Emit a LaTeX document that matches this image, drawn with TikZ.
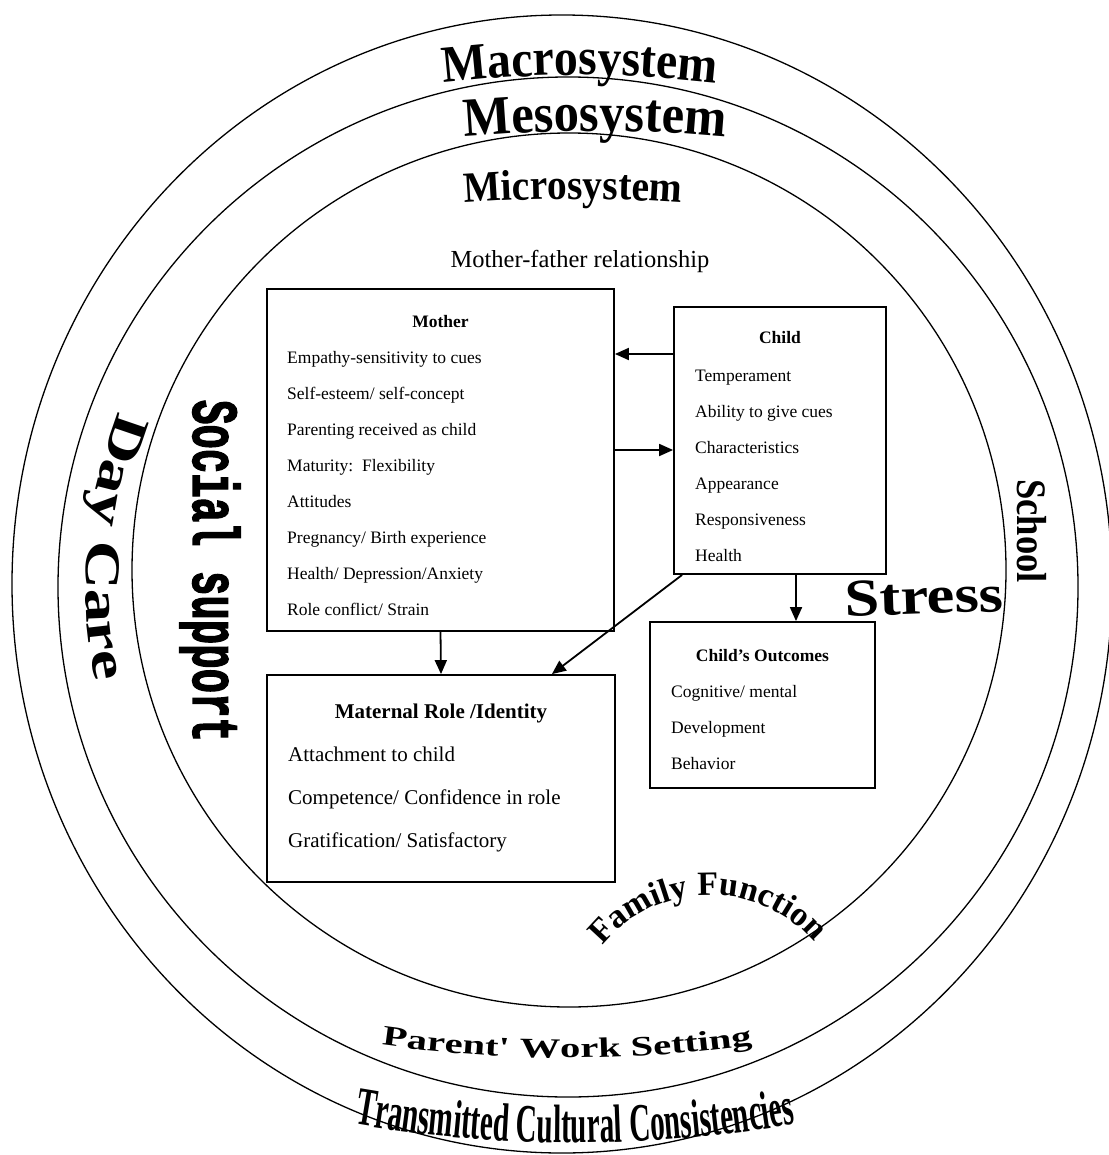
\documentclass[tikz,border=0pt]{standalone}
\usepackage{fontspec}
\setmainfont{Liberation Serif}
\newfontfamily\sysfont[FakeStretch=0.92]{Liberation Serif}
\newfontfamily\transfont[FakeStretch=0.54]{Liberation Serif}
\newfontfamily\workfont[FakeStretch=1.45]{Liberation Serif}
\newfontfamily\dayfont[FakeStretch=1.35]{Liberation Serif}
\newfontfamily\schoolfont[FakeStretch=0.87]{Liberation Serif}
\newfontfamily\stressfont[FakeStretch=1.18]{Liberation Serif}
\newfontfamily\socialfont[FakeBold=2.5]{Liberation Mono}
\usetikzlibrary{arrows.meta,decorations.text,shapes.geometric}
\tikzset{
  ring/.style={draw, line width=1.3pt, inner sep=0pt},
  box/.style={draw, line width=1.8pt, inner sep=0pt, rectangle},
  item/.style={anchor=base west, inner sep=0pt, font=\fontsize{17.5}{20}\selectfont},
  bigitem/.style={anchor=base west, inner sep=0pt, font=\fontsize{21}{24}\selectfont},
  ttl/.style={anchor=base, inner sep=0pt, font=\bfseries\fontsize{17.5}{20}\selectfont},
  bigttl/.style={anchor=base, inner sep=0pt, font=\bfseries\fontsize{21}{24}\selectfont},
  arr/.style={-{Triangle[length=14pt,width=12pt]}, line width=1.8pt},
  curved/.style={decorate, decoration={text along path, text align=center, text={#1}}}
}
\begin{document}
\begin{tikzpicture}[x=1pt,y=-1pt]
\fill[white] (0,0) rectangle (1108,1155);
\useasboundingbox (0,0) rectangle (1108,1155);

% rings
\node[ring, ellipse, minimum width=1100pt, minimum height=1138pt] (macro) at (562,584) {};
\node[ring, circle, minimum size=1020pt] (meso) at (568,587) {};
\node[ring, circle, minimum size=874pt] (micro) at (569,570) {};

% system titles
\path[curved={|\sysfont\bfseries\fontsize{52}{52}\selectfont|Macrosystem}]
  plot[domain=-100:-80, samples=40] ({580+1143*cos(\x)},{1218+1143*sin(\x)});
\path[curved={|\sysfont\bfseries\fontsize{55}{55}\selectfont|Mesosystem}]
  plot[domain=-97:-83, samples=40] ({595+1500*cos(\x)},{1631+1500*sin(\x)});
\path[curved={|\sysfont\bfseries\fontsize{43}{43}\selectfont|Microsystem}]
  plot[domain=-97:-83, samples=40] ({573+1500*cos(\x)},{1699+1500*sin(\x)});

\path[curved={|\workfont\bfseries\fontsize{28}{28}\selectfont|Parent' Work Setting}]
  plot[domain=100:80, samples=40] ({567+1323*cos(\x)},{-265+1323*sin(\x)});
\path[curved={|\transfont\bfseries\fontsize{54}{54}\selectfont|Transmitted Cultural Consistencies}]
  plot[domain=103:77, samples=50] ({575+1293*cos(\x)},{-150+1293*sin(\x)});
\path[curved={|\bfseries\fontsize{34}{34}\selectfont|Family Function}]
  plot[domain=-150:-32, samples=70] ({710+138*cos(\x)},{1033+138*sin(\x)});
\path[curved={|\dayfont\bfseries\fontsize{50}{50}\selectfont|Day Care}]
  plot[domain=205:165, samples=50] ({568+482*cos(\x)},{587+482*sin(\x)});

\node[rotate=-90, yscale=1.6, inner sep=0pt, font=\socialfont\bfseries\fontsize{40.7}{42}\selectfont] (social) at (210,571) {Social support};
\node[rotate=-90, inner sep=0pt, font=\schoolfont\bfseries\fontsize{42}{42}\selectfont] (school) at (1032,531) {School};
\node[anchor=base, rotate=2, inner sep=0pt, font=\stressfont\bfseries\fontsize{53}{53}\selectfont] (stress) at (925,614) {Stress};

\node[anchor=base, inner sep=0pt, font=\fontsize{24.5}{26}\selectfont] (mfrel) at (580,268) {Mother-father relationship};

% boxes
\node[box, minimum width=347pt, minimum height=342pt] (mother) at (440.5,460) {};
\node[box, minimum width=212pt, minimum height=267pt] (child) at (780,440.5) {};
\node[box, minimum width=225pt, minimum height=166pt] (outcomes) at (762.5,705) {};
\node[box, minimum width=348pt, minimum height=207pt] (maternal) at (441,778.5) {};

\node[ttl] (mtitle) at (440.5,327) {Mother};
\foreach \t [count=\i] in {Empathy-sensitivity to cues, Self-esteem/ self-concept, Parenting received as child, Maturity:\ \ Flexibility, Attitudes, Pregnancy/ Birth experience, Health/ Depression/Anxiety, Role conflict/ Strain}
  \node[item] (m\i) at (287,{327+36*\i}) {\t};

\node[ttl] (ctitle) at (780,343) {Child};
\foreach \t [count=\i] in {Temperament, Ability to give cues, Characteristics, Appearance, Responsiveness, Health}
  \node[item] (c\i) at (695,{345+36*\i}) {\t};

\node[ttl] (otitle) at (762.5,661) {Child’s Outcomes};
\foreach \t [count=\i] in {Cognitive/ mental, Development, Behavior}
  \node[item] (o\i) at (671,{661+36*\i}) {\t};

\node[bigttl] (rtitle) at (441,718) {Maternal Role /Identity};
\foreach \t [count=\i] in {Attachment to child, Competence/ Confidence in role, Gratification/ Satisfactory}
  \node[bigitem] (r\i) at (288,{718+43*\i}) {\t};

% connectors
\coordinate (a1) at ([yshift=86.5pt]child.west);
\draw[arr] (a1) -- (a1 -| mother.east);
\coordinate (a2) at ([yshift=-9.5pt]child.west);
\draw[arr] (a2 -| mother.east) -- (a2);
\draw[arr] (mother.south) -- (maternal.north);
\draw[arr] ([xshift=9pt]child.south west) -- ([xshift=-64pt]maternal.north east);
\coordinate (c0) at ([xshift=16pt]child.south);
\draw[arr] (c0) -- (c0 |- outcomes.north);
\end{tikzpicture}
\end{document}
